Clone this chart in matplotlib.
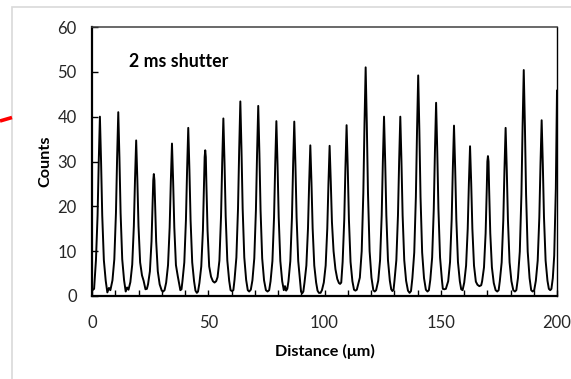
import matplotlib.pyplot as plt
from matplotlib.lines import Line2D
from matplotlib.patches import Rectangle

# intensity profile (distance in um, counts)
dist = [
    0.0, 0.9, 1.7, 2.4, 2.9, 3.4, 3.9, 4.4, 5.1, 5.9,
    6.6, 7.3, 7.9,
    8.8, 9.6, 10.3, 10.8, 11.3, 11.8, 12.3, 13.0, 13.8,
    14.5, 15.1, 15.7,
    16.5, 17.3, 18.0, 18.5, 19.0, 19.5, 20.0, 20.7, 21.5,
    22.2, 23.0, 23.6,
    24.1, 24.9, 25.6, 26.1, 26.35, 26.6, 26.85, 27.1, 27.6, 28.3, 29.1,
    30.0, 30.6, 31.2,
    31.9, 32.7, 33.4, 33.9, 34.4, 34.9, 35.4, 36.1, 36.9,
    37.4, 38.0, 38.5,
    38.9, 39.7, 40.4, 40.9, 41.4, 41.9, 42.4, 43.1, 43.9,
    44.5, 45.1, 45.6,
    46.2, 47.0, 47.7, 48.2, 48.45, 48.7, 48.95, 49.2, 49.7, 50.4, 51.2,
    52.0, 52.7, 53.4,
    54.0, 54.8, 55.5, 56.0, 56.5, 57.0, 57.5, 58.2, 59.0,
    59.6, 60.2, 60.8,
    61.3, 62.1, 62.8, 63.3, 63.8, 64.3, 64.8, 65.5, 66.3,
    67.0, 67.6, 68.3,
    69.0, 69.8, 70.5, 71.0, 71.5, 72.0, 72.5, 73.2, 74.0,
    74.8, 75.5, 76.2,
    76.8, 77.6, 78.3, 78.8, 79.3, 79.8, 80.3, 81.0, 81.8,
    82.5, 83.0, 83.5, 84.0,
    84.5, 85.3, 86.0, 86.5, 87.0, 87.5, 88.0, 88.7, 89.5,
    89.9, 90.4, 90.9,
    91.4, 92.2, 92.9, 93.4, 93.9, 94.4, 94.9, 95.6, 96.4,
    97.0, 97.6, 98.3, 98.9,
    99.7, 100.5, 101.2, 101.7, 102.2, 102.7, 103.2, 103.9, 104.7, 105.5,
    106.2, 106.7, 107.2,
    107.8, 108.5, 109.0, 109.5, 110.0, 110.5, 111.2, 112.0,
    112.7, 113.3, 113.9,
    115.2, 116.0, 116.7, 117.2, 117.7, 118.2, 118.7, 119.4, 120.2,
    121.0, 121.6, 122.2,
    123.1, 123.9, 124.6, 125.1, 125.6, 126.1, 126.6, 127.3, 128.1,
    128.7, 129.2, 129.7,
    130.1, 130.9, 131.6, 132.1, 132.6, 133.1, 133.6, 134.3, 135.1,
    135.9, 136.6, 137.2,
    137.8, 138.6, 139.3, 139.8, 140.3, 140.8, 141.3, 142.0, 142.8,
    143.6, 144.3, 144.9,
    145.5, 146.3, 147.0, 147.5, 148.0, 148.5, 149.0, 149.7, 150.5,
    150.9, 151.5, 152.2,
    153.2, 154.0, 154.7, 155.2, 155.7, 156.2, 156.7, 157.4, 158.2,
    158.8, 159.4,
    160.1, 160.9, 161.6, 162.1, 162.6, 163.1, 163.6, 164.3, 165.1,
    165.8, 166.6, 167.4,
    167.8, 168.6, 169.3, 169.8, 170.05, 170.3, 170.55, 170.8, 171.3, 172.0, 172.8,
    173.6, 174.3, 174.9,
    175.4, 176.2, 176.9, 177.4, 177.9, 178.4, 178.9, 179.6, 180.4,
    181.2, 181.9, 182.5,
    183.2, 184.0, 184.7, 185.2, 185.7, 186.2, 186.7, 187.4, 188.2,
    188.9, 189.5, 190.2,
    190.9, 191.7, 192.4, 192.9, 193.4, 193.9, 194.4, 195.1, 195.9,
    196.5, 197.1, 197.6,
    198.2, 198.8, 199.5, 200.0,
]
counts = [
    1.2, 1.6, 8.0, 18.0, 30.0, 40.0, 30.0, 18.0, 8.0, 3.4,
    0.8, 1.8, 1.3,
    3.5, 8.2, 18.5, 30.8, 41.0, 30.8, 18.5, 8.2, 3.5,
    1.0, 1.9, 1.4,
    3.1, 7.0, 15.6, 26.0, 34.7, 26.0, 15.6, 7.5, 4.6,
    3.4, 1.5, 1.6,
    2.6, 5.5, 12.2, 21.0, 25.8, 27.2, 25.8, 21.0, 12.2, 5.5, 2.6,
    1.2, 1.0, 1.3,
    3.0, 6.9, 15.3, 25.5, 34.0, 25.5, 15.3, 6.9, 4.4,
    3.0, 1.3, 1.5,
    3.3, 7.5, 16.9, 28.1, 37.5, 28.1, 16.9, 7.5, 3.3,
    1.2, 0.7, 1.0,
    2.9, 6.6, 14.6, 25.0, 31.0, 32.5, 31.0, 25.0, 14.6, 6.6, 4.3,
    3.3, 3.0, 3.3,
    4.2, 7.9, 17.8, 29.7, 39.6, 29.7, 17.8, 7.9, 3.4,
    1.3, 1.1, 1.3,
    3.6, 8.6, 19.5, 32.5, 43.4, 32.5, 19.5, 8.6, 3.6,
    1.3, 1.0, 1.4,
    3.5, 8.4, 19.1, 31.8, 42.4, 31.8, 19.1, 8.4, 3.5,
    1.3, 1.0, 1.3,
    3.3, 7.8, 17.6, 29.3, 39.0, 29.3, 17.6, 7.8, 3.3,
    1.3, 2.2, 1.2, 1.6,
    3.3, 7.8, 17.5, 29.2, 38.9, 29.2, 17.5, 7.8, 3.3,
    1.0, 0.6, 1.0,
    3.0, 6.8, 15.1, 25.2, 33.6, 25.2, 15.1, 6.8, 3.0,
    1.2, 0.7, 0.7, 1.3,
    3.0, 6.8, 15.1, 25.1, 33.5, 25.5, 16.5, 10.0, 6.0, 3.8,
    2.9, 2.7, 3.0,
    7.6, 17.1, 28.6, 38.1, 28.6, 17.1, 7.6, 3.3,
    1.4, 1.2, 1.4,
    4.1, 10.0, 23.0, 38.3, 51.0, 38.3, 23.0, 10.0, 4.1,
    1.3, 1.0, 1.3,
    3.4, 8.0, 18.0, 30.0, 40.0, 30.0, 18.0, 8.0, 3.4,
    1.5, 1.1, 1.4,
    3.4, 8.0, 18.0, 30.0, 40.0, 30.0, 18.0, 8.0, 3.4,
    1.2, 0.7, 1.1,
    4.0, 9.7, 22.1, 36.9, 49.2, 36.9, 22.1, 9.7, 4.0,
    1.4, 1.0, 1.3,
    3.6, 8.6, 19.4, 32.3, 43.1, 32.3, 19.4, 8.6, 3.6,
    1.6, 1.5, 1.6,
    3.3, 7.6, 17.1, 28.5, 38.0, 28.5, 17.1, 7.6, 3.3,
    1.5, 1.3,
    3.0, 6.8, 15.0, 25.1, 33.4, 25.1, 15.0, 6.8, 3.2,
    2.5, 2.2, 2.4,
    3.3, 6.4, 14.0, 24.0, 30.0, 31.2, 30.0, 24.0, 14.0, 6.4, 2.9,
    1.3, 1.0, 1.3,
    3.3, 7.5, 16.9, 28.1, 37.5, 28.1, 16.9, 7.5, 3.3,
    1.3, 1.0, 1.3,
    4.0, 9.9, 22.7, 37.8, 50.4, 37.8, 22.7, 9.9, 4.0,
    1.3, 1.0, 1.3,
    3.4, 7.9, 17.6, 29.4, 39.2, 29.4, 17.6, 7.9, 3.4,
    1.6, 1.3, 1.6,
    4.0, 9.0, 24.0, 45.8,
]

x_ticks = [0, 50, 100, 150, 200]
y_ticks = [0, 10, 20, 30, 40, 50, 60]

plt.rcParams['font.family'] = ['Lato', 'DejaVu Sans']

fig = plt.figure(figsize=(5.71, 3.79), dpi=100)
fig.patch.set_facecolor('white')

# light grey frame of the surrounding panel + the red pointer at the left
fig.add_artist(Rectangle((12 / 571, -0.1), 1.2, 1.1 - 7 / 379, transform=fig.transFigure,
                         fill=False, edgecolor='#d9d9d9', lw=1.2))
fig.add_artist(Line2D([0, 12 / 571], [1 - 121 / 379, 1 - 117.5 / 379], transform=fig.transFigure,
                      color='red', lw=2.6, solid_capstyle='butt'))

ax = fig.add_axes([92 / 571, 1 - 296 / 379, 465 / 571, 269 / 379])
ax.plot(dist, counts, color='black', lw=1.4)

ax.set_xlim(0, 200)
ax.set_ylim(0, 60)
ax.set_xticks(x_ticks)
ax.set_xticks(range(0, 201, 10), minor=True)
ax.set_yticks(y_ticks)
ax.tick_params(axis='both', which='both', direction='in', length=4, width=1, labelsize=12,
               labelcolor='#262626')
ax.tick_params(axis='x', pad=14)
ax.tick_params(axis='y', pad=11)

for side in ['left', 'bottom']:
    ax.spines[side].set_linewidth(1.6)
ax.spines['top'].set_color('#404040')
ax.spines['top'].set_linewidth(1.1)
ax.spines['right'].set_linewidth(1.0)

ax.set_xlabel('Distance (μm)', fontsize=11.7, fontweight='bold', labelpad=9)
ax.set_ylabel('Counts', fontsize=11.7, fontweight='bold', labelpad=4)
ax.text(15.9, 52.4, '2 ms shutter', fontsize=12.8, fontweight='bold', ha='left', va='center')

fig.savefig('out.png', dpi=100)
